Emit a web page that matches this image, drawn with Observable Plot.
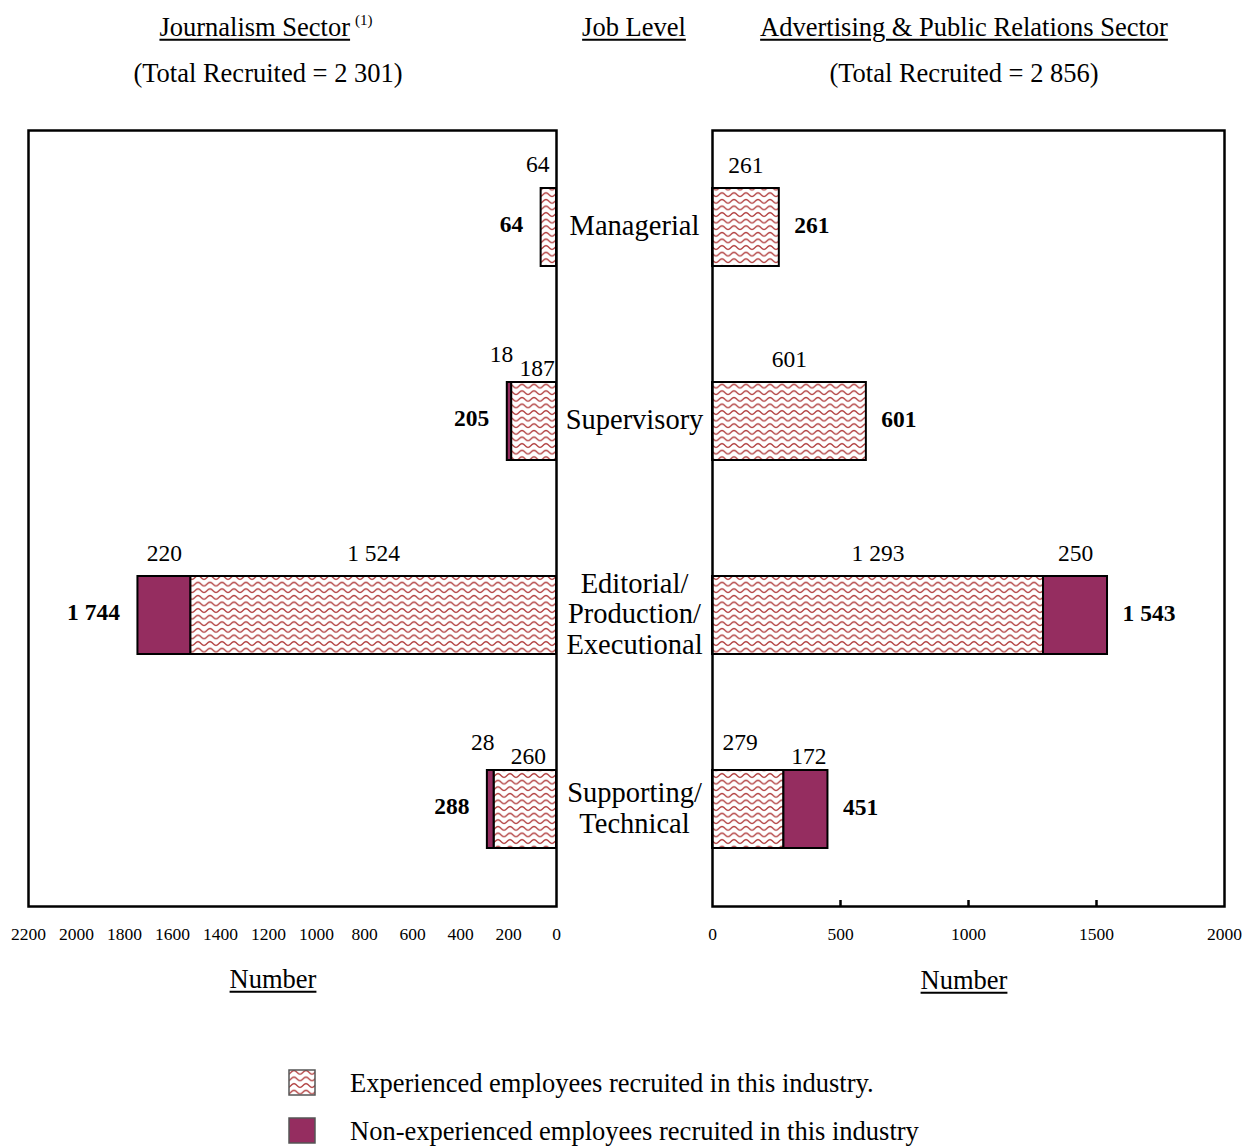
<!DOCTYPE html>
<html>
<head>
<meta charset="utf-8">
<script src="https://cdn.jsdelivr.net/npm/d3@7"></script>
<script src="https://cdn.jsdelivr.net/npm/@observablehq/plot@0.6"></script>
<style>
  html, body { margin: 0; padding: 0; background: #fff; }
  #page { position: relative; width: 1251px; height: 1147px; background: #fff; overflow: hidden;
          font-family: "Liberation Serif", "Times New Roman", serif; color: #000; }
  .t { position: absolute; transform: translate(-50%, -50%); white-space: nowrap; font-size: 26.5px; line-height: 1; }
  .u { text-decoration: underline; text-decoration-thickness: 1.5px; text-underline-offset: 3px; }
  .sup { font-size: 15px; position: relative; top: -11px; margin-left: 5px; }
  .plot { position: absolute; top: 0; }
  .leg { position: absolute; font-size: 26.5px; line-height: 1; white-space: nowrap; transform: translateY(-50%); }
  .sw { position: absolute; }
</style>
</head>
<body>
<div id="page"></div>
<script>
// ---------- data ----------
const levels = ["Managerial", "Supervisory", "Editorial/Production/Executional", "Supporting/Technical"];
const levelLabels = ["Managerial", "Supervisory", "Editorial/\nProduction/\nExecutional", "Supporting/\nTechnical"];
const seriesNames = ["Experienced", "Non-experienced"];

const journalismExperienced    = [64, 187, 1524, 260];
const journalismNonExperienced = [0, 18, 220, 28];
const journalismTotals         = [64, 205, 1744, 288];
const journalismTotalRecruited = 2301;

const adprExperienced    = [261, 601, 1293, 279];
const adprNonExperienced = [0, 0, 250, 172];
const adprTotals         = [261, 601, 1543, 451];
const adprTotalRecruited = 2856;

const journalismTicks = [0, 200, 400, 600, 800, 1000, 1200, 1400, 1600, 1800, 2000, 2200];
const adprTicks = [0, 500, 1000, 1500, 2000];

const legendLabels = [
  "Experienced employees recruited in this industry.",
  "Non-experienced employees recruited in this industry"
];

// ---------- helpers ----------
const fmt = d3.formatLocale({decimal: ".", thousands: " ", grouping: [3], currency: ["", ""]}).format(",d");
const NONEXP = "#952d60";
const WAVE = "#b03c3c";
const FONT = '"Liberation Serif", "Times New Roman", serif';

function rows(exp, nonexp) {
  const out = [];
  levels.forEach((lv, i) => {
    out.push({level: lv, series: seriesNames[0], value: exp[i]});
    out.push({level: lv, series: seriesNames[1], value: nonexp[i]});
  });
  return out.filter(d => d.value > 0);
}

function wavePath(w, h) {
  let d = "";
  for (let k = -1; k <= 2; k++) {
    const y0 = k * h + h / 2;
    let p = "";
    for (let x = 0; x <= w; x += 0.5) {
      const y = y0 + 1.8 * Math.cos(2 * Math.PI * x / w);
      p += (x === 0 ? "M" : "L") + x.toFixed(2) + "," + y.toFixed(2);
    }
    d += p;
  }
  return d;
}
function patternDef(id) {
  const w = 12, h = 6.6;
  return `<pattern id="${id}" patternUnits="userSpaceOnUse" width="${w}" height="${h}">
    <rect width="${w}" height="${h}" fill="white"/>
    <path d="${wavePath(w, h)}" fill="none" stroke="${WAVE}" stroke-width="1.4"/>
  </pattern>`;
}

// tag labels: staggered in narrow two-segment rows, nudged off the axis for very thin single bars
function tagLabels(data, leftSeriesOnScreen, thinOnLeft) {
  const byLevel = d3.group(data, d => d.level);
  return data.map(d => {
    const arr = byLevel.get(d.level);
    const total = d3.sum(arr, e => e.value);
    let grp = "normal";
    if (arr.length === 2 && total < 700) grp = d.series === leftSeriesOnScreen ? "up" : "down";
    else if (arr.length === 1 && total < 100 && thinOnLeft) grp = "thin";
    return {...d, grp};
  });
}

function stacked(extra) {
  return Plot.stackX({x: "value", y: "level", z: "series", order: null, ...extra});
}

function labelMarks(tagged) {
  const base = {fontSize: 23.5, fontFamily: FONT, fill: "black", lineAnchor: "middle"};
  const mk = (g, o) => Plot.text(tagged, stacked({text: d => d.grp === g ? fmt(d.value) : "", ...base, ...o}));
  return [
    mk("normal", {dy: -62}),
    mk("thin", {dy: -63, dx: -11}),
    mk("up", {dy: -67, dx: -8}),
    mk("down", {dy: -53, dx: 3})
  ];
}

const page = document.getElementById("page");
const yOpts = {domain: levels, paddingInner: 0.6, paddingOuter: 0.3, align: 0.5, axis: null};
const plotStyle = {fontFamily: FONT, fontSize: "17.5px", color: "black", background: "transparent", overflow: "visible"};

// ---------- left: Journalism ----------
const jData = rows(journalismExperienced, journalismNonExperienced);
const jTotals = levels.map((lv, i) => ({level: lv, value: journalismTotals[i]}));

const left = Plot.plot({
  width: 560, height: 960,
  marginLeft: 28, marginRight: 4, marginTop: 130, marginBottom: 54,
  style: plotStyle,
  x: {domain: [0, 2200], reverse: true, axis: null},
  y: yOpts,
  color: {domain: seriesNames, range: ["url(#waveL)", NONEXP]},
  marks: [
    Plot.barX(jData, stacked({fill: "series", stroke: "black", strokeWidth: 2})),
    ...labelMarks(tagLabels(jData, seriesNames[1], true)),
    Plot.text(jTotals, {x: "value", y: "level", text: d => fmt(d.value), textAnchor: "end", dx: -18, dy: -3,
      fontWeight: "bold", fontSize: 23.5, fontFamily: FONT, fill: "black"}),
    Plot.frame({stroke: "black", strokeWidth: 2.5}),
    Plot.axisX({ticks: journalismTicks, tickSize: 0, tickPadding: 21, tickFormat: d => String(d), anchor: "bottom", label: null})
  ]
});
d3.select(left).insert("defs", ":first-child").html(patternDef("waveL"));
left.classList.add("plot");
left.style.left = "0px";
page.appendChild(left);

// ---------- right: Advertising & PR ----------
const aData = rows(adprExperienced, adprNonExperienced);
const aTotals = levels.map((lv, i) => ({level: lv, value: adprTotals[i]}));
const catData = levels.map((lv, i) => ({level: lv, label: levelLabels[i]}));

const right = Plot.plot({
  width: 691, height: 960,
  marginLeft: 152, marginRight: 27, marginTop: 130, marginBottom: 54,
  style: plotStyle,
  x: {domain: [0, 2000], axis: null},
  y: yOpts,
  color: {domain: seriesNames, range: ["url(#waveR)", NONEXP]},
  marks: [
    Plot.barX(aData, stacked({fill: "series", stroke: "black", strokeWidth: 2})),
    ...labelMarks(tagLabels(aData, seriesNames[0], false)),
    Plot.text(aTotals, {x: "value", y: "level", text: d => fmt(d.value), textAnchor: "start", dx: 15, dy: -2,
      fontWeight: "bold", fontSize: 23.5, fontFamily: FONT, fill: "black"}),
    Plot.text(catData, {x: () => 0, y: "level", text: "label", dx: -78, dy: -2, textAnchor: "middle",
      lineAnchor: "middle", lineHeight: 1.08, fontSize: 28.5, fontFamily: FONT, fill: "black"}),
    Plot.frame({stroke: "black", strokeWidth: 2.5}),
    Plot.axisX({ticks: adprTicks.slice(1, -1), tickSize: 6, dy: -6, text: null, anchor: "bottom", strokeWidth: 2.5, label: null}),
    Plot.axisX({ticks: adprTicks, tickSize: 0, tickPadding: 21, tickFormat: d => String(d), anchor: "bottom", label: null})
  ]
});
d3.select(right).insert("defs", ":first-child").html(patternDef("waveR"));
right.classList.add("plot");
right.style.left = "560px";
page.appendChild(right);

// ---------- titles & labels ----------
function addText(html, x, y, cls) {
  const el = document.createElement("div");
  el.className = "t " + (cls || "");
  el.style.left = x + "px";
  el.style.top = y + "px";
  el.innerHTML = html;
  page.appendChild(el);
  return el;
}
addText('<span class="u">Journalism Sector</span><span class="sup">(1)</span>', 266, 27);
addText("Job Level", 634, 27, "u");
addText("Advertising &amp; Public Relations Sector", 964, 27, "u");
addText(`(Total Recruited = ${fmt(journalismTotalRecruited)})`, 268, 73);
addText(`(Total Recruited = ${fmt(adprTotalRecruited)})`, 964, 73);
addText("Number", 273, 979, "u");
addText("Number", 964, 980, "u");

// ---------- legend ----------
function swatch(x, y, kind) {
  const s = d3.create("svg").attr("class", "sw").attr("width", 28).attr("height", 27)
    .style("left", x + "px").style("top", y + "px");
  if (kind === 0) s.append("defs").html(patternDef("waveLeg"));
  s.append("rect").attr("x", 1).attr("y", 1).attr("width", 26).attr("height", 25)
    .attr("fill", kind === 0 ? "url(#waveLeg)" : NONEXP).attr("stroke", "#555").attr("stroke-width", 1.5);
  page.appendChild(s.node());
}
swatch(288, 1069, 0);
swatch(288, 1117, 1);
legendLabels.forEach((t, i) => {
  const el = document.createElement("div");
  el.className = "leg";
  el.style.left = "350px";
  el.style.top = (1083 + i * 48) + "px";
  el.textContent = t;
  page.appendChild(el);
});
</script>
</body>
</html>
